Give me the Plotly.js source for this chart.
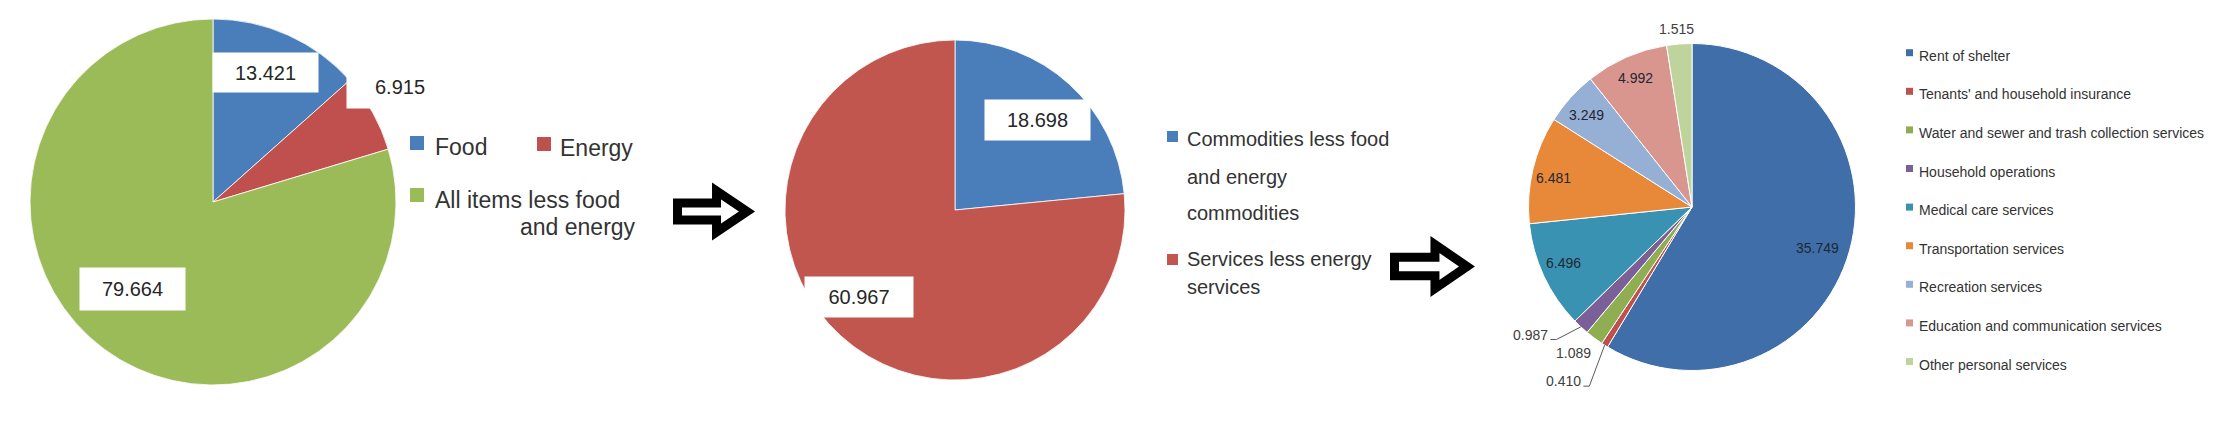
<!DOCTYPE html>
<html>
<head>
<meta charset="utf-8">
<script src="https://cdn.plot.ly/plotly-3.0.1.min.js"></script>
<style>
  html, body { margin: 0; padding: 0; background: #ffffff; }
  #chart { width: 2235px; height: 434px; }
</style>
</head>
<body>
<div id="chart"></div>
<script>
// ---------------- DATA ----------------
const pie1Labels = ['Food', 'Energy', 'All items less food and energy'];
const pie1Values = [13.421, 6.915, 79.664];
const pie1Colors = ['#4A7EBB', '#C0504D', '#9BBB59'];

const pie2Labels = ['Commodities less food and energy commodities', 'Services less energy services'];
const pie2Values = [18.698, 60.967];
const pie2Colors = ['#4A7EBB', '#C0564D'];

const pie3Labels = [
  'Rent of shelter',
  "Tenants' and household insurance",
  'Water and sewer and trash collection services',
  'Household operations',
  'Medical care services',
  'Transportation services',
  'Recreation services',
  'Education and communication services',
  'Other personal services'
];
const pie3Values = [35.749, 0.410, 1.089, 0.987, 6.496, 6.481, 3.249, 4.992, 1.515];
const pie3Colors = ['#3F6EA8', '#C0504D', '#8FAE52', '#7A5F99', '#3A92B2', '#E8893A', '#96AFD5', '#D9968F', '#BFD39C'];

// legend line wrapping (text layout only)
const legend1Lines = [['Food'], ['Energy'], ['All items less food', 'and energy']];
const legend2Lines = [['Commodities less food', 'and energy', 'commodities'], ['Services less energy', 'services']];

// ---------------- LAYOUT HELPERS ----------------
const W = 2235, H = 434;
const px = x => x / W;
const py = y => 1 - y / H;
const FONT = 'Liberation Sans, Arial, sans-serif';

const geom = [
  { cx: 213, cy: 202, r: 183 },
  { cx: 955, cy: 210, r: 170 },
  { cx: 1692, cy: 207, r: 163.5 }
];
function domainOf(g) {
  return { x: [px(g.cx - g.r), px(g.cx + g.r)], y: [py(g.cy + g.r), py(g.cy - g.r)] };
}
function midAngles(vals) {
  const total = vals.reduce((a, b) => a + b, 0);
  let cum = 0;
  return vals.map(v => { const a = (cum + v / 2) / total * 360; cum += v; return a; });
}
function polar(g, angDeg, f) {
  const t = angDeg * Math.PI / 180;
  return [g.cx + f * g.r * Math.sin(t), g.cy - f * g.r * Math.cos(t)];
}

// label placement (radial factor f, angle nudge d)
const place1 = [{ f: 0.763, d: -2, w: 105, h: 39 }, { f: 1.2, d: -2.4, w: 106, h: 42 }, { f: 0.648, d: 6.2, w: 105, h: 42 }];
const place2 = [{ f: 0.718, d: 0, w: 105, h: 40 }, { f: 0.762, d: 5.5, w: 108, h: 40 }];
const place3 = [
  { f: 0.81, d: 2.5, inside: true },
  { f: 1.325, d: 4.2, leader: true },
  { f: 1.15, d: 2.3 },
  { f: 1.26, d: 8.9, leader: true },
  { f: 0.86, d: 1.6, inside: true },
  { f: 0.865, d: -1.3, inside: true },
  { f: 0.855, d: -1, inside: true },
  { f: 0.86, d: 0, inside: true },
  { f: 1.09, d: -0.5 }
];

const annotations = [];
const shapes = [];

// boxed labels for pies 1 & 2
function boxedLabels(vals, g, place) {
  const mids = midAngles(vals);
  vals.forEach((v, i) => {
    const p = place[i];
    const [x, y] = polar(g, mids[i] + p.d, p.f);
    annotations.push({
      xref: 'paper', yref: 'paper', x: px(x), y: py(y), xanchor: 'center', yanchor: 'middle',
      text: v.toFixed(3), showarrow: false, bgcolor: '#ffffff', borderpad: 0,
      width: p.w, height: p.h, font: { family: FONT, size: 20, color: '#262626' }
    });
  });
}
boxedLabels(pie1Values, geom[0], place1);
boxedLabels(pie2Values, geom[1], place2);

// pie 3 labels
(function () {
  const g = geom[2];
  const mids = midAngles(pie3Values);
  pie3Values.forEach((v, i) => {
    const p = place3[i];
    const [x, y] = polar(g, mids[i] + p.d, p.f);
    const txt = v.toFixed(3);
    annotations.push({
      xref: 'paper', yref: 'paper', x: px(x), y: py(y), xanchor: 'center', yanchor: 'middle',
      text: txt, showarrow: false,
      font: { family: FONT, size: 14, color: p.inside ? '#1f2733' : '#404040' }
    });
    if (p.leader) {
      const [ex, ey] = polar(g, mids[i], 1.0);
      const half = txt.length * 0.52 * 14 / 2;
      const x1 = x + half + 2, x2 = x + half + 8, yy = y + 5;
      shapes.push({
        type: 'path', xref: 'paper', yref: 'paper',
        path: `M ${px(x1)},${py(yy)} L ${px(x2)},${py(yy)} L ${px(ex)},${py(ey)}`,
        line: { color: '#595959', width: 1 }
      });
    }
  });
})();

// legends
function legendText(text, x, y, size, anchor) {
  annotations.push({
    xref: 'paper', yref: 'paper', x: px(x), y: py(y), xanchor: anchor || 'left', yanchor: 'middle',
    text: text, showarrow: false, font: { family: FONT, size: size, color: '#333333' }
  });
}
function legendBox(color, x0, y0, s) {
  shapes.push({
    type: 'rect', xref: 'paper', yref: 'paper',
    x0: px(x0), x1: px(x0 + s), y0: py(y0 + s), y1: py(y0),
    fillcolor: color, line: { width: 0 }
  });
}
// legend 1
legendBox(pie1Colors[0], 410, 136, 14);
legendText(legend1Lines[0][0], 433, 147, 23);
legendBox(pie1Colors[1], 537, 137, 14);
legendText(legend1Lines[1][0], 558, 148, 23);
legendBox(pie1Colors[2], 410, 188, 14);
legendText(legend1Lines[2][0], 433, 200, 23);
legendText(legend1Lines[2][1], 638, 227, 23, 'right');
// legend 2
legendBox(pie2Colors[0], 1167, 131, 11);
[139, 177, 213].forEach((y, k) => legendText(legend2Lines[0][k], 1185, y, 20));
legendBox(pie2Colors[1], 1167, 254, 11);
[259, 287].forEach((y, k) => legendText(legend2Lines[1][k], 1185, y, 20));
// legend 3
pie3Labels.forEach((lab, i) => {
  const y = 55.7 + i * 38.6;
  legendBox(pie3Colors[i], 1906, y - 6.5, 7);
  legendText(lab, 1917, y, 14);
});

// arrows
function arrow(L, R, cy, Hh) {
  const sw = 9, hs = sw / 2;
  const x0 = L + hs, xb = L + 0.476 * (R - L) + hs, xt = R - 8;
  const sh = 0.26 * Hh - hs, hh = Hh / 2 - hs;
  const pts = [[x0, cy - sh], [xb, cy - sh], [xb, cy - hh], [xt, cy], [xb, cy + hh], [xb, cy + sh], [x0, cy + sh]];
  const d = 'M ' + pts.map(p => `${px(p[0])},${py(p[1])}`).join(' L ') + ' Z';
  shapes.push({ type: 'path', xref: 'paper', yref: 'paper', path: d, fillcolor: '#ffffff', line: { color: '#000000', width: sw } });
}
arrow(673, 755, 211.5, 50);
arrow(1390, 1475, 266.5, 53);

// ---------------- TRACES ----------------
function pieTrace(labels, values, colors, g, lw) {
  return {
    type: 'pie', labels: labels, values: values, sort: false, direction: 'clockwise', rotation: 0,
    textinfo: 'none', showlegend: false, hoverinfo: 'label+value',
    marker: { colors: colors, line: { color: '#ffffff', width: lw } },
    domain: domainOf(g)
  };
}
const data = [
  pieTrace(pie1Labels, pie1Values, pie1Colors, geom[0], 0.8),
  pieTrace(pie2Labels, pie2Values, pie2Colors, geom[1], 0.8),
  pieTrace(pie3Labels, pie3Values, pie3Colors, geom[2], 1)
];

const layout = {
  width: W, height: H,
  margin: { l: 0, r: 0, t: 0, b: 0, pad: 0 },
  paper_bgcolor: '#ffffff', plot_bgcolor: '#ffffff',
  showlegend: false,
  annotations: annotations,
  shapes: shapes
};

Plotly.newPlot('chart', data, layout, { staticPlot: true, displayModeBar: false });
</script>
</body>
</html>
